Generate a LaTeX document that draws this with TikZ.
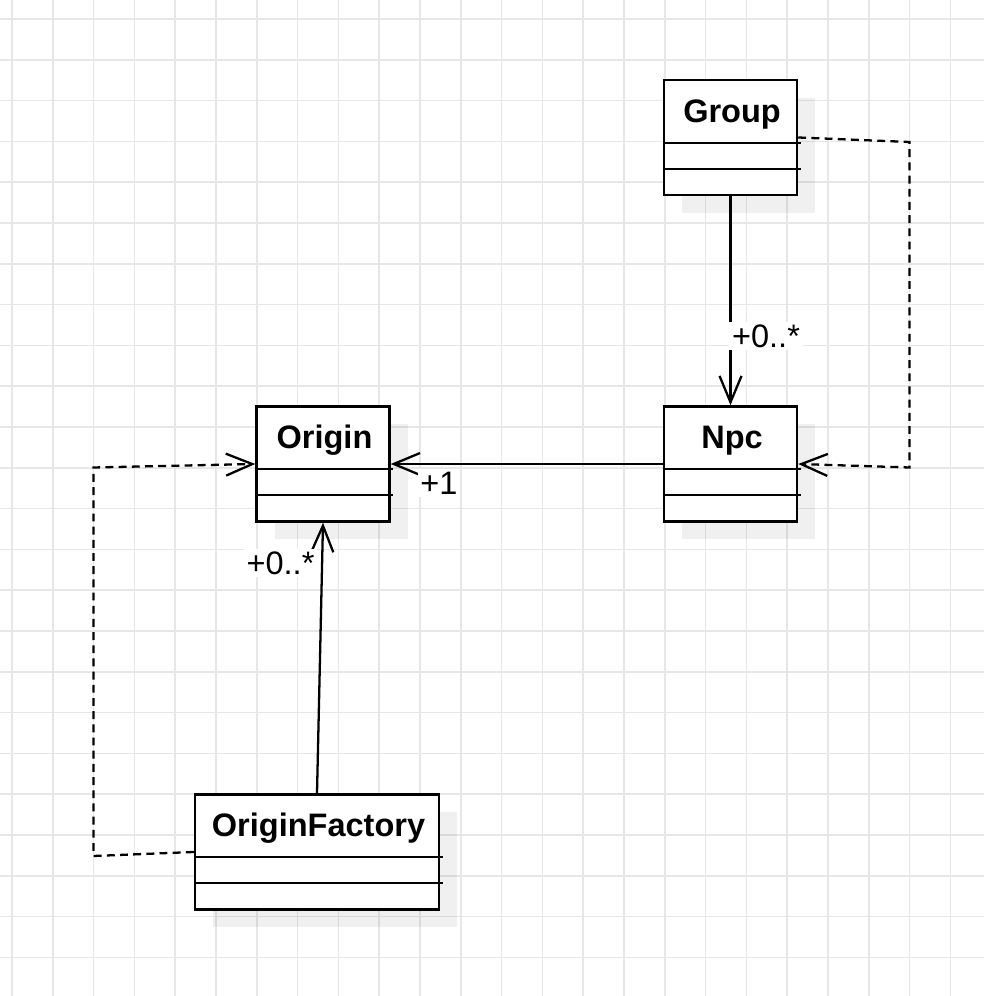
\documentclass[tikz,border=0pt]{standalone}
\usepackage{fontspec}
\setmainfont{Liberation Sans}
\usepackage{tikz}
\usetikzlibrary{arrows.meta,calc,positioning,shadows}
\usepackage{xcolor}
\definecolor{gridgray}{RGB}{231,231,231}

\begin{document}
\begin{tikzpicture}[
  umlclass/.style={draw, line width=1.4pt, fill=white, minimum width=2.66cm, minimum height=2.3cm, inner sep=0pt,
    drop shadow={shadow xshift=0.36cm, shadow yshift=-0.36cm, fill=black, opacity=0.06}},
  classname/.style={font=\fontsize{18.5}{22}\selectfont\bfseries, inner sep=0pt, anchor=base},
  mult/.style={font=\fontsize{18.5}{22}\selectfont, fill=white, inner sep=1.5pt},
  assoc/.style={line width=1.3pt, -{Straight Barb[length=15pt, width=12.5pt]}},
  dep/.style={assoc, dash pattern=on 4.5pt off 3pt}
]
\useasboundingbox (0,0) rectangle (19.68,19.92);
% --- griglia di sfondo ---
\foreach \i in {0,...,23} {
  \draw[gridgray, line width=0.9pt] ({0.24+0.816*\i},0) -- ({0.24+0.816*\i},19.92);
  \draw[gridgray, line width=0.9pt] (0,{19.54-0.816*\i}) -- (19.68,{19.54-0.816*\i});
}
% --- classi ---
\node[umlclass] (group) at (14.61,17.17) {};
\node[umlclass] (npc) at (14.61,10.64) {};
\node[umlclass] (origin) at (6.46,10.64) {};
\node[umlclass, minimum width=4.88cm] (factory) at (6.34,2.88) {};
% nomi e separatori
\foreach \c/\t in {group/Group, npc/Npc, origin/Origin, factory/OriginFactory} {
  \node[classname] (\c-name) at ($(\c.north)+(0.03,-0.87)$) {\t};
  \draw[line width=1.4pt] ($(\c.north west)+(0,-1.28)$) -- ($(\c.north east)+(0.05,-1.28)$);
  \draw[line width=1.4pt] ($(\c.north west)+(0,-1.8)$) -- ($(\c.north east)+(0.05,-1.8)$);
}
% --- associazioni ---
\draw[assoc] (group.south) -- (npc.north);
\draw[assoc] (npc.west) -- (origin.east);
\draw[assoc] (factory.north) -- (origin.south);
% --- dipendenze ---
\coordinate (gr1) at (18.19,17.08);
\coordinate (gr2) at (18.19,10.57);
\draw[dep] (group.east) -- (gr1) -- (gr2) -- (npc.east);
\coordinate (of1) at (1.87,2.8);
\coordinate (of2) at (1.87,10.57);
\draw[dep] (factory.west) -- (of1) -- (of2) -- (origin.west);
% --- molteplicita ---
\node[mult] (m-group) at (15.32,13.2) {+0..*};
\node[mult] (m-npc) at (8.78,10.26) {+1};
\node[mult] (m-factory) at (5.61,8.66) {+0..*};
\end{tikzpicture}
\end{document}
